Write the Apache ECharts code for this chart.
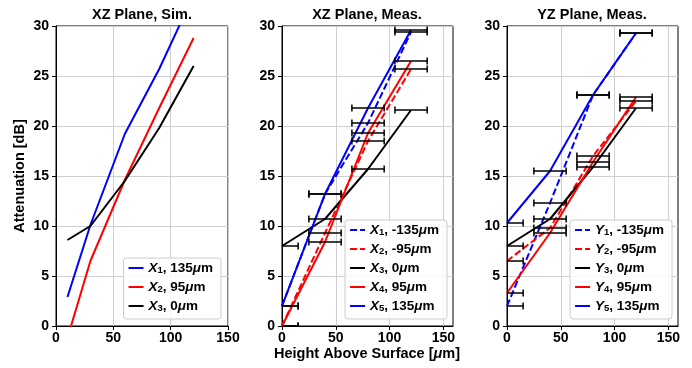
<!DOCTYPE html>
<html>
<head>
<meta charset="utf-8">
<title>Attenuation vs. Height</title>
<script src="https://cdn.jsdelivr.net/npm/echarts@6/dist/echarts.min.js"></script>
<style>
  html, body { margin: 0; padding: 0; background: #fff; }
  #chart { width: 692px; height: 368px; }
</style>
</head>
<body>
<div id="chart"></div>
<script>
// ---- data (heights in um, attenuation in dB) ----
const simHeight = [10, 30, 60, 90, 120];
const simX1 = [2.9, 10.1, 19.2, 25.7, 33.1];
const simX2 = [-1.2, 6.5, 14.6, 21.8, 28.8];
const simX3 = [8.6, 10.0, 14.5, 19.8, 26.0];

const measHeight = [0, 40, 80, 120];
const xzX1 = [2.0, 13.2, 20.3, 29.4];
const xzX2 = [0.0, 9.3, 18.5, 25.7];
const xzX3 = [8.0, 10.7, 15.7, 21.6];
const xzX4 = [0.0, 8.4, 19.3, 26.5];
const xzX5 = [2.0, 13.2, 21.8, 29.6];

const yzY1 = [2.0, 12.3, 23.1, 29.3];
const yzY2 = [6.5, 9.8, 17.0, 22.5];
const yzY3 = [8.0, 10.7, 15.9, 21.8];
const yzY4 = [3.3, 9.3, 16.4, 22.9];
const yzY5 = [10.3, 15.5, 23.1, 29.3];

const heightError = 15;

const titles = ['XZ Plane, Sim.', 'XZ Plane, Meas.', 'YZ Plane, Meas.'];
const xTicks = [0, 50, 100, 150];

// ---- styling ----
const FONT = '"Liberation Sans", Arial, Helvetica, sans-serif';
const BLUE = '#0000ff', RED = '#ff0000', BLACK = '#000000';
const DASH = [7, 3];

const grids = [
  { left: 56, top: 26, width: 172, height: 300 },
  { left: 282, top: 26, width: 171, height: 300 },
  { left: 507, top: 26, width: 171, height: 300 }
];
const xMax = [150, 159, 159];

function pairs(xs, ys) { return xs.map((x, i) => [x, ys[i]]); }

function lineSeries(name, idx, xs, ys, color, dashed) {
  return {
    type: 'line', name: name,
    xAxisIndex: idx, yAxisIndex: idx,
    data: pairs(xs, ys),
    symbol: 'none', clip: true, z: 2,
    lineStyle: { color: color, width: 2, type: dashed ? DASH : 'solid' },
    itemStyle: { color: color },
    emphasis: { disabled: true },
    animation: false
  };
}

function errorSeries(idx, xs, groups) {
  const data = [];
  groups.forEach(ys => xs.forEach((x, i) => data.push([x, ys[i], heightError])));
  return {
    type: 'custom', xAxisIndex: idx, yAxisIndex: idx, clip: true, z: 5,
    silent: true, animation: false,
    data: data,
    renderItem: function (params, api) {
      const x = api.value(0), y = api.value(1), e = api.value(2);
      const a = api.coord([x - e, y]);
      const b = api.coord([x + e, y]);
      const h = 3.5;
      const st = { stroke: '#000', lineWidth: 1.5, fill: null };
      return {
        type: 'group',
        children: [
          { type: 'line', shape: { x1: a[0], y1: a[1], x2: b[0], y2: b[1] }, style: st },
          { type: 'line', shape: { x1: a[0], y1: a[1] - h, x2: a[0], y2: a[1] + h }, style: st },
          { type: 'line', shape: { x1: b[0], y1: b[1] - h, x2: b[0], y2: b[1] + h }, style: st }
        ]
      };
    }
  };
}

const series = [
  lineSeries('X1, 135μm', 0, simHeight, simX1, BLUE, false),
  lineSeries('X2, 95μm', 0, simHeight, simX2, RED, false),
  lineSeries('X3, 0μm', 0, simHeight, simX3, BLACK, false),

  lineSeries('X1, -135μm', 1, measHeight, xzX1, BLUE, true),
  lineSeries('X2, -95μm', 1, measHeight, xzX2, RED, true),
  lineSeries('X3, 0μm ', 1, measHeight, xzX3, BLACK, false),
  lineSeries('X4, 95μm', 1, measHeight, xzX4, RED, false),
  lineSeries('X5, 135μm', 1, measHeight, xzX5, BLUE, false),
  errorSeries(1, measHeight, [xzX1, xzX2, xzX3, xzX4, xzX5]),

  lineSeries('Y1, -135μm', 2, measHeight, yzY1, BLUE, true),
  lineSeries('Y2, -95μm', 2, measHeight, yzY2, RED, true),
  lineSeries('Y3, 0μm', 2, measHeight, yzY3, BLACK, false),
  lineSeries('Y4, 95μm', 2, measHeight, yzY4, RED, false),
  lineSeries('Y5, 135μm', 2, measHeight, yzY5, BLUE, false),
  errorSeries(2, measHeight, [yzY1, yzY2, yzY3, yzY4, yzY5])
];

// legend label: italic symbol, subscript index, italic mu
function legendLabel(name) {
  const n = name.trim();
  const sym = n.charAt(0), sub = n.charAt(1);
  const rest = n.slice(2);
  const parts = rest.split('μ');
  return '{i|' + sym + '}{s|' + sub + '}{t|' + parts[0] + '}{i|μ}{t|' + parts[1] + '}';
}

const legendRich = {
  i: { fontFamily: FONT, fontSize: 13.5, fontWeight: 'bold', fontStyle: 'italic', color: '#000', lineHeight: 14 },
  s: { fontFamily: FONT, fontSize: 9.5, fontWeight: 'bold', color: '#000', lineHeight: 8, verticalAlign: 'bottom' },
  t: { fontFamily: FONT, fontSize: 13.5, fontWeight: 'bold', color: '#000', lineHeight: 14 }
};

function legend(names, right, top) {
  return {
    orient: 'vertical', right: right, top: top,
    data: names,
    itemWidth: 15, itemHeight: 14, itemGap: 5,
    padding: [3, 8, 6, 4],
    backgroundColor: 'rgba(255,255,255,0.85)',
    borderColor: '#cccccc', borderWidth: 1, borderRadius: 3,
    selectedMode: false,
    // line-only key: hide the marker that sits on the key line
    itemStyle: { color: 'rgba(0,0,0,0)', borderColor: 'rgba(0,0,0,0)', borderWidth: 0, opacity: 0 },
    formatter: legendLabel,
    textStyle: { rich: legendRich, fontFamily: FONT, fontSize: 13.5, fontWeight: 'bold' }
  };
}

const axisText = { fontFamily: FONT, fontSize: 14, fontWeight: 'bold', color: '#000' };

function xAxis(idx) {
  return {
    type: 'value', gridIndex: idx, min: 0, max: xMax[idx], interval: 50,
    axisLine: { show: true, onZero: false, lineStyle: { color: '#000', width: 1 } },
    axisTick: { show: true, length: 4, customValues: xTicks, lineStyle: { color: '#000', width: 1 } },
    axisLabel: Object.assign({ margin: 5, customValues: xTicks,
      formatter: v => (v % 50 === 0 ? String(v) : '') }, axisText),
    splitLine: { show: true, lineStyle: { color: '#cfcfcf', width: 1 } }
  };
}

function yAxis(idx) {
  return {
    type: 'value', gridIndex: idx, min: 0, max: 30, interval: 5,
    axisLine: { show: true, lineStyle: { color: '#000', width: 1 } },
    axisTick: { show: true, length: 4, lineStyle: { color: '#000', width: 1 } },
    axisLabel: Object.assign({ margin: 7 }, axisText),
    splitLine: { show: true, lineStyle: { color: '#cfcfcf', width: 1 } }
  };
}

const titleFont = 'bold 14.5px ' + FONT;
const titleX = [142, 367, 592];

const graphic = titles.map((t, i) => ({
  type: 'text', x: titleX[i], y: 15, silent: true,
  style: { text: t, font: titleFont, fill: '#000', align: 'center', verticalAlign: 'middle' }
}));
graphic.push({
  type: 'text', x: 20, y: 176, rotation: Math.PI / 2, silent: true,
  style: { text: 'Attenuation [dB]', font: titleFont, fill: '#000', align: 'center', verticalAlign: 'middle' }
});
graphic.push({
  type: 'text', x: 367, y: 354, silent: true,
  style: {
    text: '{t|Height Above Surface [}{m|μ}{t|m]}',
    align: 'center', verticalAlign: 'middle',
    rich: {
      t: { fontFamily: FONT, fontSize: 14.5, fontWeight: 'bold', fill: '#000' },
      m: { fontFamily: FONT, fontSize: 14.5, fontWeight: 'bold', fontStyle: 'italic', fill: '#000' }
    }
  }
});

const option = {
  backgroundColor: '#ffffff',
  animation: false,
  grid: grids.map(g => Object.assign({ show: true, borderColor: '#000', borderWidth: 1,
    backgroundColor: 'transparent', containLabel: false }, g)),
  xAxis: [0, 1, 2].map(xAxis),
  yAxis: [0, 1, 2].map(yAxis),
  legend: [
    legend(['X1, 135μm', 'X2, 95μm', 'X3, 0μm'], 471, 258),
    legend(['X1, -135μm', 'X2, -95μm', 'X3, 0μm ', 'X4, 95μm', 'X5, 135μm'], 245, 220),
    legend(['Y1, -135μm', 'Y2, -95μm', 'Y3, 0μm', 'Y4, 95μm', 'Y5, 135μm'], 20, 220)
  ],
  graphic: graphic,
  series: series
};

const chart = echarts.init(document.getElementById('chart'), null, { renderer: 'canvas' });
chart.setOption(option);
</script>
</body>
</html>
